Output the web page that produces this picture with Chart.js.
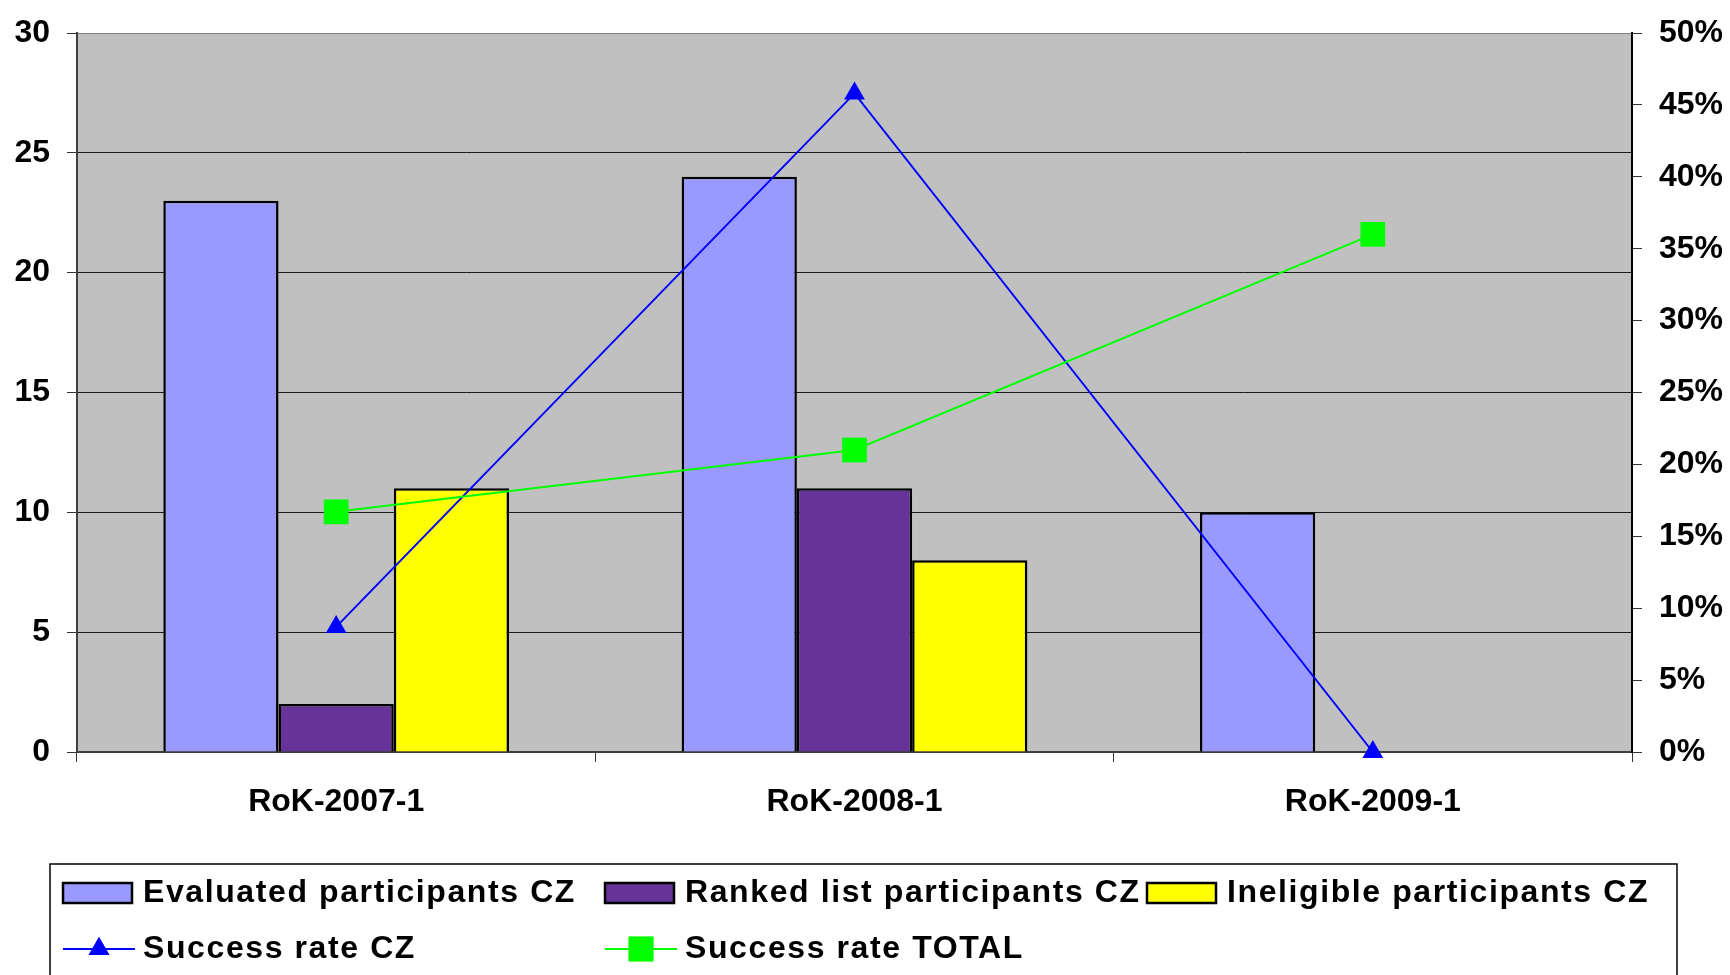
<!DOCTYPE html>
<html>
<head>
<meta charset="utf-8">
<script src="https://cdn.jsdelivr.net/npm/chart.js@4/dist/chart.umd.min.js"></script>
<style>
  html, body { margin: 0; padding: 0; background: #fff; }
  canvas { display: block; }
</style>
</head>
<body>
<canvas id="chart" width="1730" height="975"></canvas>
<script>
// data
const categories = ["RoK-2007-1", "RoK-2008-1", "RoK-2009-1"];
const evaluatedCZ = [23, 24, 10];
const rankedCZ = [2, 11, 0];
const ineligibleCZ = [11, 8, 0];
const successRateCZ = [8.7, 45.8, 0];      // %
const successRateTotal = [16.7, 21.0, 36.0]; // %
const leftTicks = [0, 5, 10, 15, 20, 25, 30];
const rightTicks = [0, 5, 10, 15, 20, 25, 30, 35, 40, 45, 50];

const FONT = '"Liberation Sans", Arial, sans-serif';

// gray plot area
const plotBg = {
    id: "plotBg",
    beforeDraw(chart) {
        const { ctx, chartArea: a } = chart;
        ctx.save();
        ctx.fillStyle = "#fff";
        ctx.fillRect(0, 0, chart.width, chart.height);
        ctx.fillStyle = "#C0C0C0";
        ctx.fillRect(a.left, a.top, a.right - a.left, a.bottom - a.top);
        ctx.restore();
    }
};

// legend in a box, 3 columns grid like the original
const boxLegend = {
    id: "boxLegend",
    afterDraw(chart) {
        const ctx = chart.ctx;
        const cols = [63, 605, 1147];
        const rows = [893, 949];
        ctx.save();
        ctx.strokeStyle = "#000";
        ctx.lineWidth = 1.5;
        ctx.strokeRect(50, 864, 1627, 140);

        ctx.font = "bold 32px " + FONT;
        if ("letterSpacing" in ctx) ctx.letterSpacing = "1.6px";
        ctx.textBaseline = "middle";
        ctx.fillStyle = "#000";

        chart.data.datasets.forEach((ds, i) => {
            const x = cols[i % 3];
            const y = rows[Math.floor(i / 3)];
            if (ds.type === "line") {
                ctx.strokeStyle = ds.borderColor;
                ctx.lineWidth = 2;
                ctx.beginPath();
                ctx.moveTo(x, y);
                ctx.lineTo(x + 72, y);
                ctx.stroke();
                ctx.fillStyle = ds.pointBackgroundColor;
                ctx.beginPath();
                Chart.helpers.drawPoint(ctx, {
                    pointStyle: ds.pointStyle,
                    radius: ds.pointRadius,
                    rotation: 0,
                    borderWidth: 0
                }, x + 36, y);
                ctx.fill();
            } else {
                ctx.fillStyle = ds.backgroundColor;
                ctx.fillRect(x, y - 10, 69, 20);
                ctx.strokeStyle = "#000";
                ctx.lineWidth = 2.5;
                ctx.strokeRect(x, y - 10, 69, 20);
            }
            ctx.fillStyle = "#000";
            ctx.fillText(ds.label, x + 80, y);
        });
        ctx.restore();
    }
};

new Chart(document.getElementById("chart"), {
    type: "bar",
    data: {
        labels: categories,
        datasets: [
            {
                label: "Evaluated participants CZ",
                data: evaluatedCZ,
                backgroundColor: "#9999FF",
                borderColor: "#000",
                borderWidth: 2.5,
                yAxisID: "y",
                order: 2
            },
            {
                label: "Ranked list participants CZ",
                data: rankedCZ,
                backgroundColor: "#663399",
                borderColor: "#000",
                borderWidth: 2.5,
                yAxisID: "y",
                order: 2
            },
            {
                label: "Ineligible participants CZ",
                data: ineligibleCZ,
                backgroundColor: "#FFFF00",
                borderColor: "#000",
                borderWidth: 2.5,
                yAxisID: "y",
                order: 2
            },
            {
                type: "line",
                label: "Success rate CZ",
                data: successRateCZ,
                borderColor: "#0000FF",
                borderWidth: 2,
                pointStyle: "triangle",
                pointRadius: 12,
                pointBackgroundColor: "#0000FF",
                pointBorderColor: "#0000FF",
                pointBorderWidth: 0,
                tension: 0,
                clip: false,
                yAxisID: "y1",
                order: 1
            },
            {
                type: "line",
                label: "Success rate TOTAL",
                data: successRateTotal,
                borderColor: "#00FF00",
                borderWidth: 2,
                pointStyle: "rect",
                pointRadius: 17.5,
                pointBackgroundColor: "#00FF00",
                pointBorderColor: "#00FF00",
                pointBorderWidth: 0,
                tension: 0,
                clip: false,
                yAxisID: "y1",
                order: 0
            }
        ]
    },
    options: {
        responsive: false,
        animation: false,
        layout: { padding: { top: 28, left: 0, right: 0, bottom: 123 } },
        datasets: {
            bar: { categoryPercentage: 0.667, barPercentage: 1.0 }
        },
        plugins: {
            legend: { display: false },
            tooltip: { enabled: false }
        },
        scales: {
            x: {
                offset: true,
                grid: {
                    offset: true,
                    drawOnChartArea: false,
                    drawTicks: true,
                    tickLength: 10,
                    color: "#333",
                    lineWidth: 1
                },
                border: { color: "#404040", width: 2 },
                ticks: {
                    color: "#000",
                    padding: 21,
                    font: { family: FONT, size: 32, weight: "bold" }
                },
                afterFit: (s) => { s.height = 100; }
            },
            y: {
                position: "left",
                min: 0,
                max: 30,
                afterBuildTicks: (s) => { s.ticks = leftTicks.map(v => ({ value: v })); },
                grid: {
                    color: (c) => c.tick && c.tick.value === 30 ? "#808080" : "#1a1a1a",
                    lineWidth: 1,
                    tickLength: 10,
                    tickColor: "#333"
                },
                border: { color: "#404040", width: 2 },
                ticks: {
                    color: "#000",
                    padding: 17,
                    font: { family: FONT, size: 32, weight: "bold", lineHeight: 1 }
                },
                afterFit: (s) => { s.width = 77; }
            },
            y1: {
                position: "right",
                min: 0,
                max: 50,
                afterBuildTicks: (s) => { s.ticks = rightTicks.map(v => ({ value: v })); },
                grid: {
                    drawOnChartArea: false,
                    tickLength: 10,
                    color: "#333"
                },
                border: { color: "#000", width: 2 },
                ticks: {
                    color: "#000",
                    padding: 17,
                    font: { family: FONT, size: 32, weight: "bold", lineHeight: 1 },
                    callback: (v) => v + "%"
                },
                afterFit: (s) => { s.width = 98; }
            }
        }
    },
    plugins: [plotBg, boxLegend]
});
</script>
</body>
</html>
